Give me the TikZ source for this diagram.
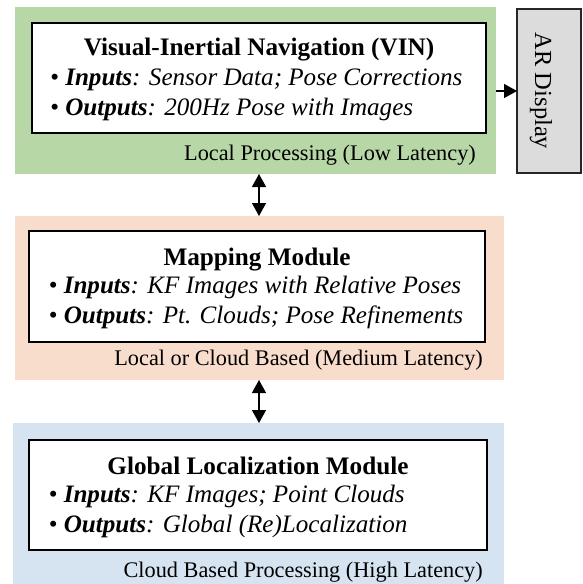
\documentclass[tikz,border=0pt]{standalone}
\usepackage{fontspec}
\setmainfont{Liberation Serif}
\usetikzlibrary{arrows.meta}

\definecolor{lowlat}{HTML}{B8D7A6}
\definecolor{medlat}{HTML}{F9DDCC}
\definecolor{highlat}{HTML}{D6E4F2}
\definecolor{dispgray}{HTML}{DCDCDC}

\tikzset{
  panel/.style={draw=none, inner sep=0pt, outer sep=0pt, anchor=north west},
  modbox/.style={draw=black, line width=1.4pt, fill=white, inner sep=0pt, outer sep=0pt, anchor=north west},
  modtitle/.style={anchor=base, inner sep=0pt, font=\fontsize{25.2}{30}\selectfont\bfseries},
  modline/.style={anchor=base west, inner sep=0pt, font=\fontsize{25.1}{30}\selectfont\itshape},
  latency/.style={anchor=base east, inner sep=0pt, font=\fontsize{22.3}{26}\selectfont},
  dispbox/.style={draw=black!85, line width=1.1pt, fill=dispgray, inner sep=0pt, outer sep=0pt, anchor=north west},
  link/.style={line width=1.3pt, -{Triangle[length=13pt,width=14pt]}},
  duplex/.style={line width=1.3pt, {Triangle[length=13pt,width=14pt]}-{Triangle[length=13pt,width=14pt]}}
}

\begin{document}
\begin{tikzpicture}[x=1pt, y=-1pt]
\useasboundingbox (0,0) rectangle (583,584);

% Local processing tier
\node[panel, fill=lowlat, minimum width=481pt, minimum height=167pt] (lpanel) at (15,7) {};
\node[modbox, minimum width=454pt, minimum height=110pt] (vin) at (32,23) {};
\node[modtitle] (vinT) at (vin.north |- 0,55) {Visual-Inertial Navigation (VIN)};
\node[modline] (vinIn) at (50,85) {\textbullet\ \textbf{Inputs}: Sensor Data; Pose Corrections};
\node[modline] (vinOut) at (50,115) {\textbullet\ \textbf{Outputs}: 200Hz Pose with Images};
\node[latency] (lTag) at (476,160) {Local Processing (Low Latency)};

% Display
\node[dispbox, minimum width=64pt, minimum height=164pt] (ar) at (517,9) {};
\node[anchor=base, inner sep=0pt, rotate=-90, font=\fontsize{24.5}{29}\selectfont] (arT) at (535,91) {AR Display};

% Mapping tier
\node[panel, fill=medlat, minimum width=489pt, minimum height=164pt] (mpanel) at (15,216) {};
\node[modbox, minimum width=456pt, minimum height=111pt] (map) at (29,231) {};
\node[modtitle] (mapT) at (map.north |- 0,265) {Mapping Module};
\node[modline] (mapIn) at (48.5,293.5) {\textbullet\ \textbf{Inputs}: KF Images with Relative Poses};
\node[modline] (mapOut) at (48.5,323) {\textbullet\ \textbf{Outputs}: Pt. Clouds; Pose Refinements};
\node[latency] (mTag) at (483,365) {Local or Cloud Based (Medium Latency)};

% Global localization tier
\node[panel, fill=highlat, minimum width=491pt, minimum height=161pt] (gpanel) at (13,423) {};
\node[modbox, minimum width=458pt, minimum height=110pt] (glob) at (29,440) {};
\node[modtitle] (globT) at (glob.north |- 0,474) {Global Localization Module};
\node[modline] (globIn) at (48.5,502) {\textbullet\ \textbf{Inputs}: KF Images; Point Clouds};
\node[modline] (globOut) at (48.5,532) {\textbullet\ \textbf{Outputs}: Global (Re)Localization};
\node[latency] (gTag) at (483,577) {Cloud Based Processing (High Latency)};

% Connectors
\draw[link] (lpanel.east |- ar.west) -- (ar.west);
\draw[duplex] (vin.south |- lpanel.south) -- (vin.south |- mpanel.north);
\draw[duplex] (vin.south |- mpanel.south) -- (vin.south |- gpanel.north);
\end{tikzpicture}
\end{document}
